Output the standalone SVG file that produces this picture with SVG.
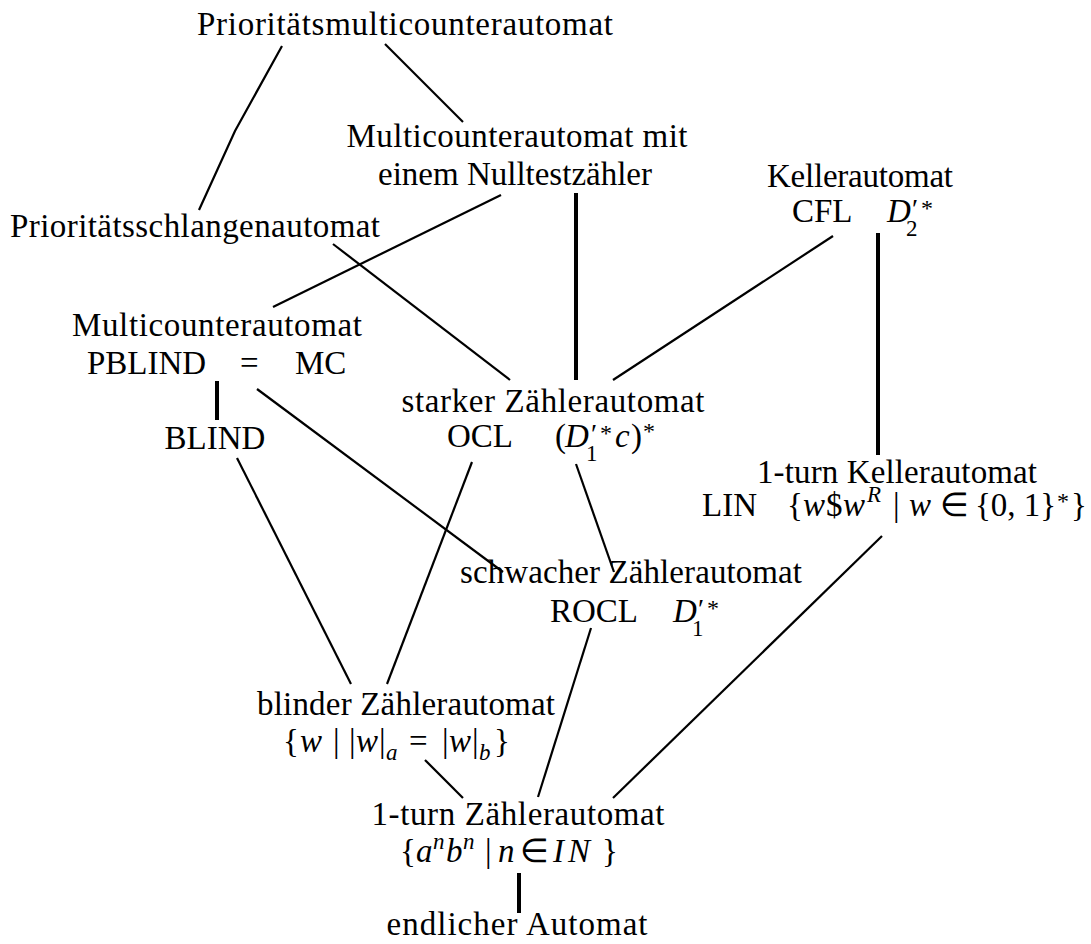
<svg xmlns="http://www.w3.org/2000/svg" width="1091" height="944" viewBox="0 0 1091 944">
<style>
text{font-family:"Liberation Serif","Times New Roman",serif;font-size:33px;fill:#000}
.m{text-anchor:middle}
.i{font-style:italic}
.s{font-size:23px}
.p{font-size:28px;font-style:normal}
.st{font-size:24px;font-style:normal}
#edges line,#edges polyline{stroke:#000;stroke-width:2.2;fill:none;stroke-linecap:butt}
#edges .k{stroke-width:4}
</style>
<rect width="1091" height="944" fill="#fff"/>
<g id="edges">
<polyline points="282,46 235,131 199,210"/>
<line x1="385" y1="44" x2="463" y2="122"/>
<line x1="501" y1="195" x2="273" y2="307"/>
<line x1="576" y1="193" x2="576" y2="380" class="k"/>
<line x1="333" y1="244" x2="510" y2="380"/>
<line x1="833" y1="236" x2="613" y2="380"/>
<line x1="878" y1="233" x2="878" y2="455" class="k"/>
<line x1="217" y1="381" x2="217" y2="420" class="k"/>
<line x1="257" y1="389" x2="503" y2="572"/>
<line x1="237" y1="458" x2="351" y2="684"/>
<line x1="472" y1="462" x2="387" y2="684"/>
<line x1="576" y1="464" x2="614" y2="572"/>
<line x1="882" y1="536" x2="613" y2="798"/>
<line x1="591" y1="628" x2="538" y2="797"/>
<line x1="425" y1="760" x2="463" y2="798"/>
<line x1="519" y1="873" x2="519" y2="913" class="k"/>
</g>
<g id="n-prio-multi"><text x="405" y="35" class="m" textLength="416">Prioritätsmulticounterautomat</text></g>
<g id="n-multi-null"><text x="517" y="147" class="m" textLength="341">Multicounterautomat mit</text><text x="515" y="185" class="m">einem Nulltestzähler</text></g>
<g id="n-keller"><text x="860" y="187" class="m" textLength="186">Kellerautomat</text>
<text x="792" y="222">CFL<tspan x="887" y="222" class="i">D</tspan><tspan x="912" y="218" class="p">′</tspan><tspan x="906" y="236" class="s">2</tspan><tspan x="921" y="216" class="st">*</tspan></text></g>
<g id="n-prio-schlange"><text x="195" y="237" class="m" textLength="370">Prioritätsschlangenautomat</text></g>
<g id="n-multi"><text x="217" y="336" class="m" textLength="290">Multicounterautomat</text>
<text x="87" y="374">PBLIND<tspan x="240">=</tspan><tspan x="295">MC</tspan></text></g>
<g id="n-blind"><text x="215" y="449" class="m">BLIND</text></g>
<g id="n-starker"><text x="553" y="412" class="m" textLength="303">starker Zählerautomat</text>
<text x="447" y="447">OCL<tspan x="555" y="447">(</tspan><tspan x="565" y="447" class="i">D</tspan><tspan x="591" y="443" class="p">′</tspan><tspan x="586" y="461" class="s">1</tspan><tspan x="600" y="441" class="st">*</tspan><tspan x="615" y="447" class="i">c</tspan><tspan x="631" y="447">)</tspan><tspan x="643" y="439" class="st">*</tspan></text></g>
<g id="n-1turn-keller"><text x="897" y="483" class="m" textLength="280">1-turn Kellerautomat</text>
<text x="702" y="516">LIN<tspan x="787" y="516">{</tspan><tspan x="803" y="516" class="i">w</tspan><tspan x="826" y="516">$</tspan><tspan x="843" y="516" class="i">w</tspan><tspan x="867" y="502" class="s i">R</tspan><tspan x="893" y="516">|</tspan><tspan x="909" y="516" class="i">w</tspan><tspan x="940" y="516">∈</tspan><tspan x="975" y="516">{0, 1}</tspan><tspan x="1057" y="509" class="st">*</tspan><tspan x="1071" y="516">}</tspan></text></g>
<g id="n-schwach"><text x="631" y="583" class="m" textLength="342">schwacher Zählerautomat</text>
<text x="550" y="622">ROCL<tspan x="673" y="622" class="i">D</tspan><tspan x="698" y="618" class="p">′</tspan><tspan x="692" y="636" class="s">1</tspan><tspan x="707" y="616" class="st">*</tspan></text></g>
<g id="n-blinder"><text x="406" y="715" class="m" textLength="298">blinder Zählerautomat</text>
<text x="283" y="752">{<tspan x="300" class="i">w</tspan><tspan x="333">|</tspan><tspan x="349">|</tspan><tspan x="356" class="i">w</tspan><tspan x="379">|</tspan><tspan x="386" y="760" class="s i">a</tspan><tspan x="409" y="752">=</tspan><tspan x="442">|</tspan><tspan x="449" class="i">w</tspan><tspan x="472">|</tspan><tspan x="479" y="760" class="s i">b</tspan><tspan x="494" y="752">}</tspan></text></g>
<g id="n-1turn-zaehler"><text x="518" y="825" class="m" textLength="293">1-turn Zählerautomat</text>
<text x="400" y="862">{<tspan x="416" class="i">a</tspan><tspan x="433" y="849" class="s i">n</tspan><tspan x="446" y="862" class="i">b</tspan><tspan x="463" y="849" class="s i">n</tspan><tspan x="485" y="862">|</tspan><tspan x="498" class="i">n</tspan><tspan x="520">∈</tspan><tspan x="553" class="i">I</tspan><tspan x="568" class="i">N</tspan><tspan x="602">}</tspan></text></g>
<g id="n-endlich"><text x="517" y="935" class="m" textLength="261">endlicher Automat</text></g>
</svg>
